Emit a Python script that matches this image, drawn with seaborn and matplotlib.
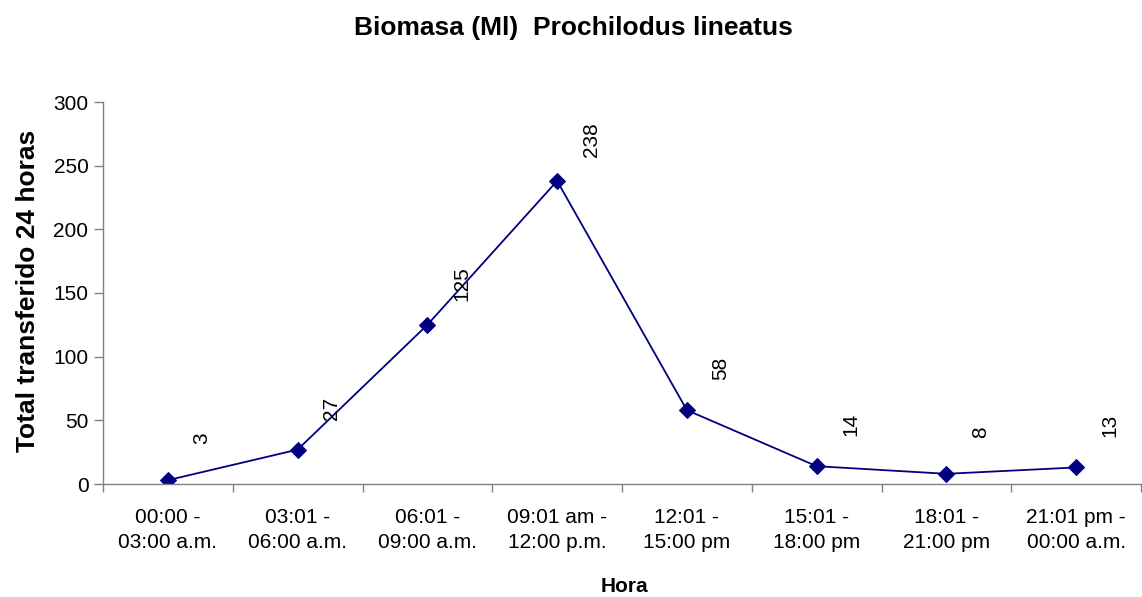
import matplotlib
matplotlib.use("Agg")
import matplotlib.pyplot as plt
import seaborn as sns
import pandas as pd

# Time windows (two-line tick labels) and biomass transferred in each window
periodos = [
    "00:00 -\n03:00 a.m.",
    "03:01 -\n06:00 a.m.",
    "06:01 -\n09:00 a.m.",
    "09:01 am -\n12:00 p.m.",
    "12:01 -\n15:00 pm",
    "15:01 -\n18:00 pm",
    "18:01 -\n21:00 pm",
    "21:01 pm -\n00:00 a.m.",
]
biomasa = [3, 27, 125, 238, 58, 14, 8, 13]
y_ticks = [0, 50, 100, 150, 200, 250, 300]

sns.set_style("white")
plt.rcParams["font.family"] = ["Liberation Sans", "DejaVu Sans"]
plt.rcParams["text.color"] = "black"
plt.rcParams["xtick.labelcolor"] = "black"
plt.rcParams["ytick.labelcolor"] = "black"

df = pd.DataFrame({"pos": range(len(periodos)), "biomasa": biomasa})

W, H = 1142, 597
fig = plt.figure(figsize=(W / 100, H / 100), dpi=100)
ax = fig.add_axes([103 / W, 1 - 484 / H, (1141 - 103) / W, (484 - 102) / H])

line_color = "#000080"
sns.lineplot(data=df, x="pos", y="biomasa", ax=ax, color=line_color,
             linewidth=1.3, marker="D", markersize=8,
             markeredgecolor=line_color, markerfacecolor=line_color)

# Rotated value labels above and to the right of each point
for xi, yi in zip(df["pos"], df["biomasa"]):
    ax.annotate(str(yi), (xi, yi), xytext=(24.5, 30), textcoords="offset points",
                rotation=90, ha="center", va="center", fontsize=15, color="black")

ax.set_xlim(-0.5, len(periodos) - 0.5)
ax.set_ylim(0, 300)
ax.set_yticks(y_ticks)
ax.set_yticklabels([str(v) for v in y_ticks])

# Category boundaries carry the tick marks; labels sit at category centres
ax.set_xticks([i - 0.5 for i in range(len(periodos) + 1)])
ax.set_xticklabels([""] * (len(periodos) + 1))
ax.set_xticks(list(range(len(periodos))), minor=True)
ax.set_xticklabels(periodos, minor=True, fontsize=15, linespacing=1.45)
ax.tick_params(axis="x", which="minor", length=0, pad=17, labelcolor="black")
ax.tick_params(axis="x", which="major", length=6, width=1, color="#808080",
               direction="out", bottom=True)
ax.tick_params(axis="y", length=6.5, width=1, color="#808080", direction="out",
               left=True, labelsize=15, pad=4, labelcolor="black")

for side in ["top", "right"]:
    ax.spines[side].set_visible(False)
for side in ["left", "bottom"]:
    ax.spines[side].set_color("#808080")
    ax.spines[side].set_linewidth(1)

ax.set_xlabel("")
ax.set_ylabel("")
fig.text(573 / W, 1 - 28 / H, "Biomasa (Ml)  Prochilodus lineatus",
         ha="center", va="center", fontsize=19, fontweight="bold", color="black")
fig.text(28 / W, 1 - 291 / H, "Total transferido 24 horas", rotation=90,
         ha="center", va="center", fontsize=19, fontweight="bold", color="black")
fig.text(624 / W, 1 - 587 / H, "Hora", ha="center", va="center",
         fontsize=15, fontweight="bold", color="black")

fig.savefig("out.png", dpi=100)
